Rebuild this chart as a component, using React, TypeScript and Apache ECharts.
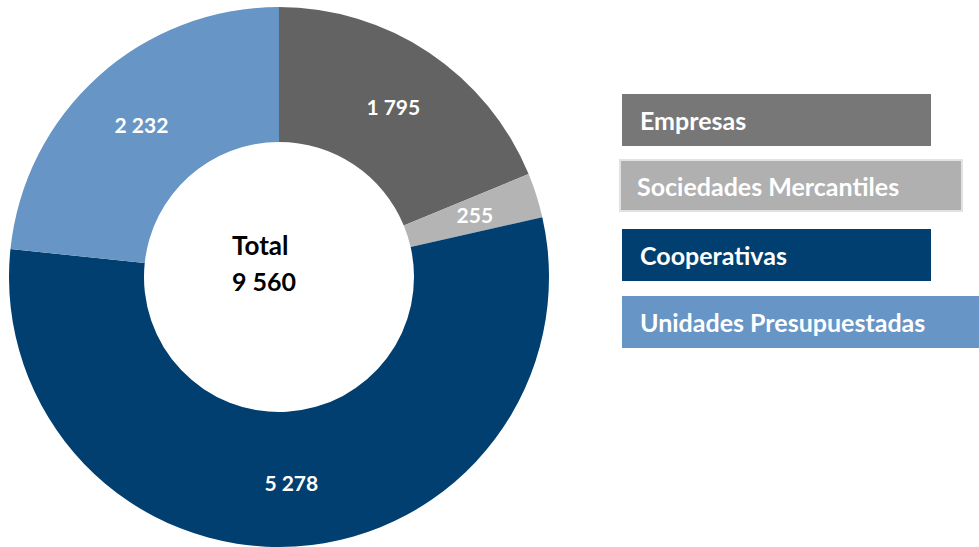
import React, { useEffect, useRef } from "react";
import * as echarts from "echarts";

const categories = ["Empresas", "Sociedades Mercantiles", "Cooperativas", "Unidades Presupuestadas"];
const values = [1795, 255, 5278, 2232];
const sliceColors = ["#636363", "#b4b4b4", "#003f70", "#6795c5"];
const legendColors = ["#777777", "#b0b0b0", "#003f70", "#6795c5"];
const totalLabel = "Total";
const totalValue = "9 560";

const fmt = (v: number) => String(v).replace(/\B(?=(\d{3})+(?!\d))/g, " ");

const legendBoxes = [
  { x: 622, y: 94, w: 309, h: 52, tx: 640, border: false },
  { x: 620, y: 160, w: 342, h: 51, tx: 637, border: true },
  { x: 622, y: 229, w: 309, h: 52, tx: 640, border: false },
  { x: 622, y: 296, w: 357, h: 52, tx: 640, border: false },
];

export default function App() {
  const ref = useRef<HTMLDivElement>(null);
  useEffect(() => {
    if (!ref.current) return;
    const chart = echarts.init(ref.current, null, { renderer: "svg" });
    const font = "Lato";
    const graphics: any[] = [];
    categories.forEach((c, i) => {
      const b = legendBoxes[i];
      graphics.push({
        type: "rect",
        shape: { x: b.x, y: b.y, width: b.w, height: b.h },
        style: {
          fill: legendColors[i],
          stroke: b.border ? "#e2e2e2" : null,
          lineWidth: b.border ? 2 : 0,
        },
      });
      graphics.push({
        type: "text",
        x: b.tx,
        y: b.y + b.h / 2,
        style: {
          text: c,
          fill: "#ffffff",
          font: `bold 25px ${font}`,
          textAlign: "left",
          textVerticalAlign: "middle",
        },
      });
    });
    graphics.push({
      type: "text",
      x: 232,
      y: 245,
      style: { text: totalLabel, fill: "#000", font: `bold 26px ${font}`, textAlign: "left", textVerticalAlign: "middle" },
    });
    graphics.push({
      type: "text",
      x: 232,
      y: 281,
      style: { text: totalValue, fill: "#000", font: `bold 25px ${font}`, textAlign: "left", textVerticalAlign: "middle" },
    });
    chart.setOption({
      animation: false,
      series: [
        {
          type: "pie",
          center: [279, 277],
          radius: [135, 270],
          startAngle: 90,
          clockwise: true,
          avoidLabelOverlap: false,
          silent: true,
          label: {
            show: true,
            position: "inside",
            color: "#ffffff",
            fontFamily: font,
            fontWeight: "bold",
            fontSize: 21,
            formatter: (p: any) => fmt(p.value),
          },
          labelLine: { show: false },
          data: categories.map((c, i) => ({ name: c, value: values[i], itemStyle: { color: sliceColors[i] } })),
        },
      ],
      graphic: graphics,
    });
    return () => chart.dispose();
  }, []);
  return <div ref={ref} style={{ position: "fixed", left: 0, top: 0, width: 979, height: 547, background: "#fff" }} />;
}
